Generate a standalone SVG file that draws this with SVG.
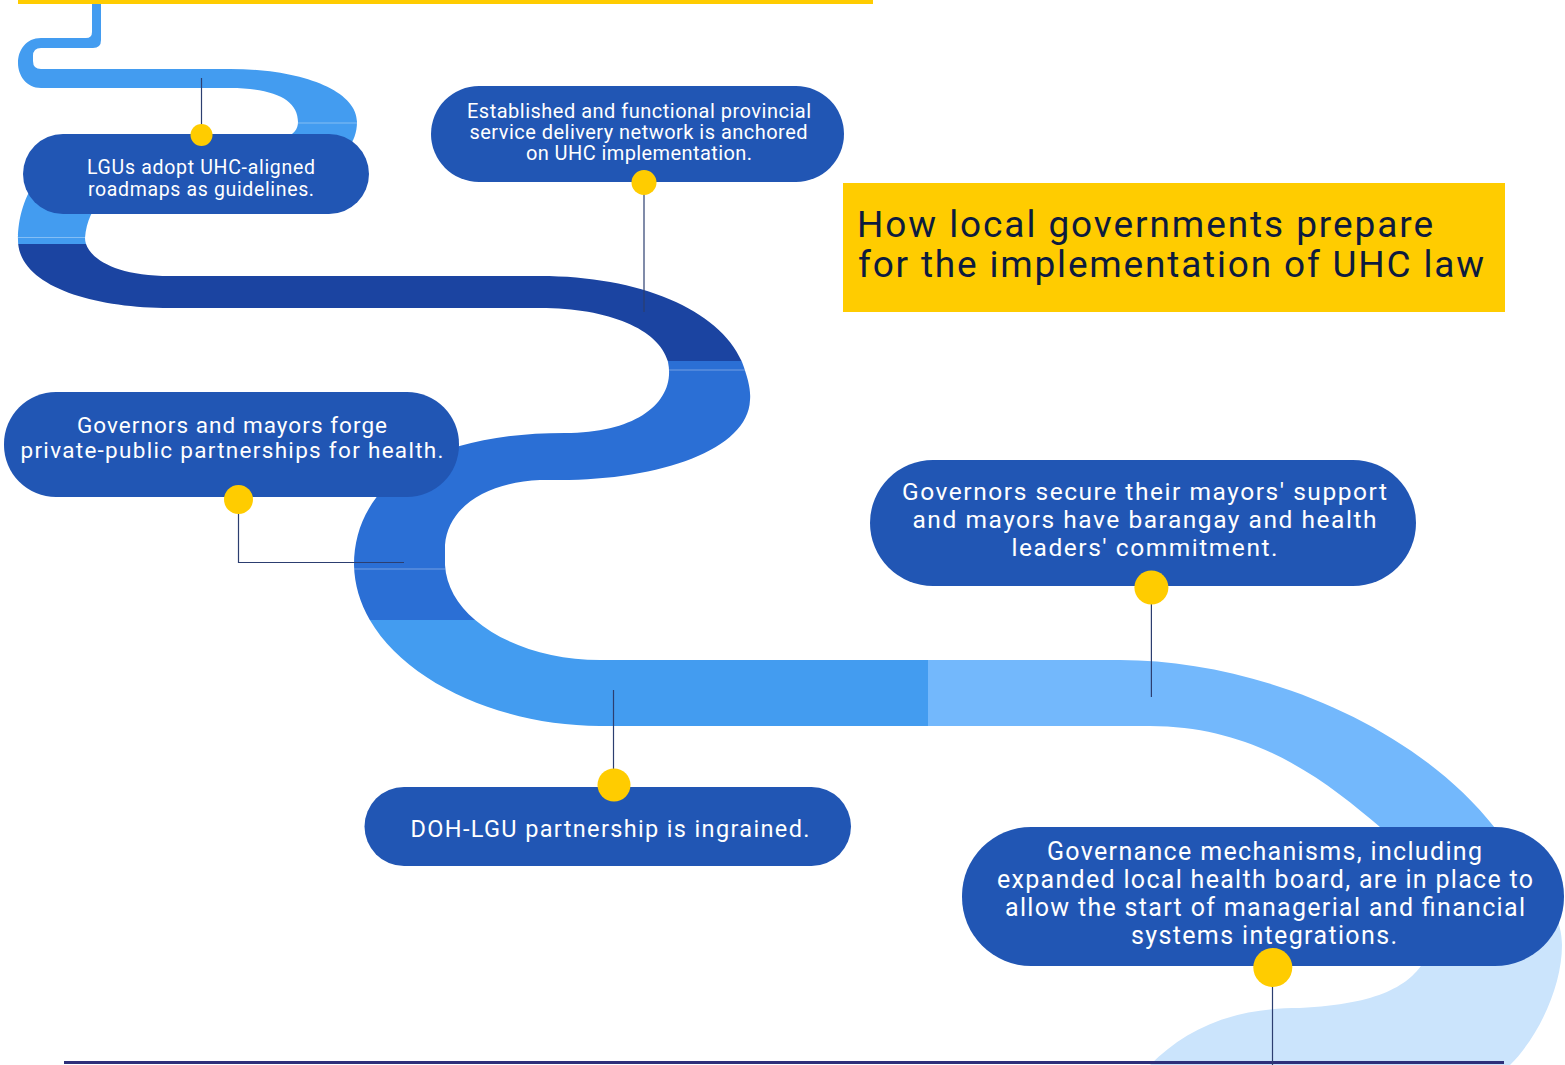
<svg xmlns="http://www.w3.org/2000/svg" width="1565" height="1065" viewBox="0 0 1565 1065">
<style>
.box{fill:#2156b4}
.dot{fill:#ffcc00}
.t{font-family:Roboto,'Liberation Sans',sans-serif;fill:#ffffff;text-anchor:middle}
.ttl{font-family:Roboto,'Liberation Sans',sans-serif;fill:#0d1b3e;font-size:37px}
.con{stroke:#2c3e70;stroke-width:1.2;fill:none}
.sep{stroke:#ffffff;stroke-opacity:0.35;stroke-width:1}
</style>
<defs>
<path id="road" d="M101,4 L101,40 Q101,48 93,48 L41,48 Q33,48 33,56 L33,61 Q33,69 41,69 L230,69 C300,69 357,90 357,122 C357,165 300,180 250,182 L150,182 C110,182 88,205 85,238 C85,255 110,276 170,276 L540,276 C640,276 720,310 742,362 C748,378 751,390 750,400 C748,450 660,480 560,480 L540,480 C490,482 448,505 445,545 L445,565 C448,620 520,660 600,660 L1120,660 C1250,660 1410,720 1495,828 C1535,875 1562,910 1562,945 C1562,985 1540,1035 1510,1065 L1500,1080 L1140,1080 L1150,1065 C1185,1030 1230,1008 1300,1008 C1380,1004 1410,985 1425,960 C1445,920 1420,870 1380,827 C1330,785 1260,726 1150,726 L600,726 C480,726 356,660 354,565 C354,490 420,433 565,433 C640,433 676,400 668,362 C660,330 610,308 540,308 L170,308 C90,308 18,285 18,240 C18,195 45,150 100,147 L230,146 C270,145 298,140 298,122 C298,100 275,88 230,88 L41,88 C26,88 18,75 18,63 C18,50 26,38 41,38 L86,38 Q92,38 92,32 L92,4 Z"/>
<clipPath id="cA"><rect x="0" y="0" width="1565" height="244"/></clipPath>
<clipPath id="cB"><rect x="0" y="244" width="1565" height="117"/></clipPath>
<clipPath id="cC"><rect x="0" y="361" width="1565" height="259"/></clipPath>
<clipPath id="cD"><rect x="0" y="620" width="928" height="445"/></clipPath>
<clipPath id="cE"><rect x="928" y="620" width="637" height="250"/></clipPath>
<clipPath id="cF"><rect x="928" y="870" width="637" height="195"/></clipPath>
<clipPath id="cRoad"><use href="#road"/></clipPath>
</defs>
<rect width="1565" height="1065" fill="#ffffff"/>
<rect x="18" y="0" width="855" height="4" fill="#ffcc00"/>
<g id="road-track">
<use href="#road" fill="#439cf0" clip-path="url(#cA)"/>
<use href="#road" fill="#1b44a1" clip-path="url(#cB)"/>
<use href="#road" fill="#2b6fd5" clip-path="url(#cC)"/>
<use href="#road" fill="#439cf0" clip-path="url(#cD)"/>
<use href="#road" fill="#73b8fc" clip-path="url(#cE)"/>
<use href="#road" fill="#cbe4fc" clip-path="url(#cF)"/>
<g clip-path="url(#cRoad)">
<line class="sep" x1="0" y1="123" x2="800" y2="123"/>
<line class="sep" x1="0" y1="237.5" x2="800" y2="237.5"/>
<line class="sep" x1="0" y1="370" x2="800" y2="370"/>
<line class="sep" x1="0" y1="569" x2="800" y2="569"/>
</g>
</g>
<line x1="64" y1="1062.5" x2="1504" y2="1062.5" stroke="#2e2f7a" stroke-width="3"/>
<g id="connectors">
<line class="con" x1="201.5" y1="78" x2="201.5" y2="134"/>
<line class="con" x1="644" y1="182" x2="644" y2="312"/>
<polyline class="con" points="238.5,500 238.5,562.5 404,562.5"/>
<line class="con" x1="1151.4" y1="588" x2="1151.4" y2="697"/>
<line class="con" x1="613.5" y1="690" x2="613.5" y2="785"/>
<line class="con" x1="1272.5" y1="968" x2="1272.5" y2="1065"/>
</g>
<g id="title">
<rect x="843" y="183" width="662" height="129" fill="#ffcc00"/>
<text class="ttl" x="857" y="237" textLength="576" lengthAdjust="spacing">How local governments prepare</text>
<text class="ttl" x="858" y="277" textLength="626" lengthAdjust="spacing">for the implementation of UHC law</text>
</g>
<g id="node-lgu">
<rect class="box" x="23" y="134" width="346" height="80" rx="40"/>
<text class="t" x="201" y="174" font-size="19.5" textLength="228" lengthAdjust="spacing">LGUs adopt UHC-aligned</text>
<text class="t" x="201" y="196" font-size="19.5" textLength="226" lengthAdjust="spacing">roadmaps as guidelines.</text>
<circle class="dot" cx="201.5" cy="135" r="11"/>
</g>
<g id="node-network">
<rect class="box" x="431" y="86" width="413" height="96" rx="48"/>
<text class="t" x="639" y="118" font-size="20" textLength="344" lengthAdjust="spacing">Established and functional provincial</text>
<text class="t" x="638.5" y="139" font-size="20" textLength="338" lengthAdjust="spacing">service delivery network is anchored</text>
<text class="t" x="639" y="160" font-size="20" textLength="226" lengthAdjust="spacing">on UHC implementation.</text>
<circle class="dot" cx="644" cy="182.5" r="12.5"/>
</g>
<g id="node-ppp">
<rect class="box" x="4" y="392" width="455" height="105" rx="52"/>
<text class="t" x="232" y="433" font-size="22.5" textLength="310" lengthAdjust="spacing">Governors and mayors forge</text>
<text class="t" x="232" y="458" font-size="22.5" textLength="423" lengthAdjust="spacing">private-public partnerships for health.</text>
<circle class="dot" cx="238.5" cy="499.5" r="14.5"/>
</g>
<g id="node-support">
<rect class="box" x="870" y="460" width="546" height="126" rx="63"/>
<text class="t" x="1144.5" y="500" font-size="24.5" textLength="485" lengthAdjust="spacing">Governors secure their mayors' support</text>
<text class="t" x="1144.5" y="528" font-size="24.5" textLength="464" lengthAdjust="spacing">and mayors have barangay and health</text>
<text class="t" x="1144.5" y="556" font-size="24.5" textLength="266" lengthAdjust="spacing">leaders' commitment.</text>
<circle class="dot" cx="1151.4" cy="587.5" r="17"/>
</g>
<g id="node-doh">
<rect class="box" x="364.5" y="787" width="486.5" height="79" rx="39.5"/>
<text class="t" x="610" y="837" font-size="23.5" textLength="399" lengthAdjust="spacing">DOH-LGU partnership is ingrained.</text>
<circle class="dot" cx="614" cy="785" r="16.5"/>
</g>
<g id="node-governance">
<rect class="box" x="962" y="827" width="602" height="139" rx="69"/>
<text class="t" x="1264.5" y="860" font-size="25" textLength="435" lengthAdjust="spacing">Governance mechanisms, including</text>
<text class="t" x="1265" y="888" font-size="25" textLength="536" lengthAdjust="spacing">expanded local health board, are in place to</text>
<text class="t" x="1265" y="916" font-size="25" textLength="520" lengthAdjust="spacing">allow the start of managerial and financial</text>
<text class="t" x="1264" y="944" font-size="25" textLength="266" lengthAdjust="spacing">systems integrations.</text>
<circle class="dot" cx="1272.8" cy="967.5" r="19.5"/>
</g>
</svg>
